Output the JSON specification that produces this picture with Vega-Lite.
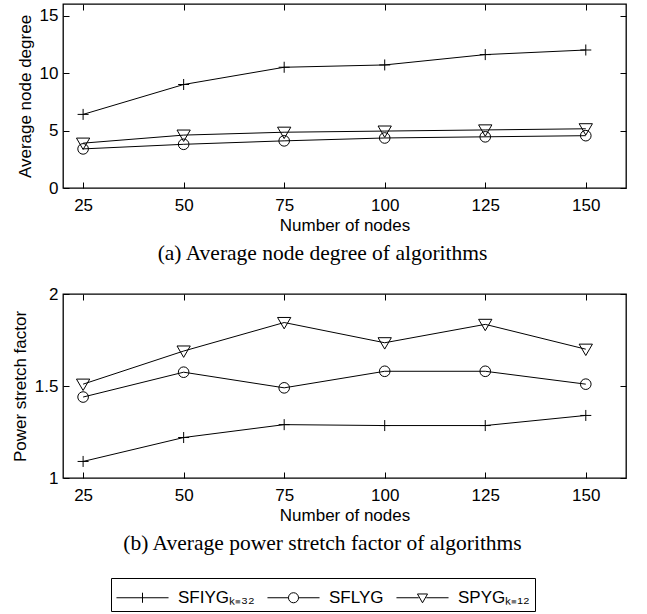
{
  "$schema": "https://vega.github.io/schema/vega-lite/v6.json",
  "padding": {"left": 10, "top": 2, "right": 0, "bottom": 0},
  "spacing": 18,
  "background": "white",
  "datasets": {
    "degree": [
      {"n": 25, "series": "SFIYG", "value": 6.4},
      {"n": 50, "series": "SFIYG", "value": 9.0},
      {"n": 75, "series": "SFIYG", "value": 10.5},
      {"n": 100, "series": "SFIYG", "value": 10.7},
      {"n": 125, "series": "SFIYG", "value": 11.6},
      {"n": 150, "series": "SFIYG", "value": 12.0},
      {"n": 25, "series": "SFLYG", "value": 3.4},
      {"n": 50, "series": "SFLYG", "value": 3.8},
      {"n": 75, "series": "SFLYG", "value": 4.1},
      {"n": 100, "series": "SFLYG", "value": 4.35},
      {"n": 125, "series": "SFLYG", "value": 4.45},
      {"n": 150, "series": "SFLYG", "value": 4.55},
      {"n": 25, "series": "SPYG", "value": 3.9},
      {"n": 50, "series": "SPYG", "value": 4.6},
      {"n": 75, "series": "SPYG", "value": 4.85},
      {"n": 100, "series": "SPYG", "value": 4.95},
      {"n": 125, "series": "SPYG", "value": 5.05},
      {"n": 150, "series": "SPYG", "value": 5.15}
    ],
    "stretch": [
      {"n": 25, "series": "SFIYG", "value": 1.09},
      {"n": 50, "series": "SFIYG", "value": 1.22},
      {"n": 75, "series": "SFIYG", "value": 1.29},
      {"n": 100, "series": "SFIYG", "value": 1.285},
      {"n": 125, "series": "SFIYG", "value": 1.285},
      {"n": 150, "series": "SFIYG", "value": 1.34},
      {"n": 25, "series": "SFLYG", "value": 1.44},
      {"n": 50, "series": "SFLYG", "value": 1.575},
      {"n": 75, "series": "SFLYG", "value": 1.49},
      {"n": 100, "series": "SFLYG", "value": 1.58},
      {"n": 125, "series": "SFLYG", "value": 1.58},
      {"n": 150, "series": "SFLYG", "value": 1.51},
      {"n": 25, "series": "SPYG", "value": 1.51},
      {"n": 50, "series": "SPYG", "value": 1.69},
      {"n": 75, "series": "SPYG", "value": 1.845},
      {"n": 100, "series": "SPYG", "value": 1.735},
      {"n": 125, "series": "SPYG", "value": 1.835},
      {"n": 150, "series": "SPYG", "value": 1.70}
    ]
  },
  "config": {
    "view": {"stroke": "black", "strokeWidth": 1.3},
    "font": "Liberation Sans",
    "axis": {
      "grid": false,
      "domain": false,
      "tickColor": "black",
      "tickSize": -6,
      "labelColor": "black",
      "labelFont": "Liberation Sans",
      "labelFontSize": 17,
      "titleColor": "black",
      "titleFont": "Liberation Sans",
      "titleFontSize": 17,
      "titleFontWeight": "normal"
    },
    "title": {"font": "Liberation Serif", "fontSize": 21.5, "fontWeight": "normal", "color": "black"}
  },
  "vconcat": [
    {
      "width": 563,
      "height": 184,
      "data": {"name": "degree"},
      "title": {"text": "(a)  Average node degree of algorithms", "orient": "bottom", "anchor": "middle", "dx": -22, "offset": 10},
      "layer": [
        {
          "mark": {"type": "line", "color": "black", "strokeWidth": 1},
          "encoding": {
            "x": {"field": "n", "type": "quantitative", "scale": {"domain": [20, 160]}, "axis": {"values": [25, 50, 75, 100, 125, 150], "title": "Number of nodes", "labelPadding": 15, "titlePadding": 4}},
            "y": {"field": "value", "type": "quantitative", "scale": {"domain": [0, 15]}, "axis": {"values": [0, 5, 10, 15], "title": "Average node degree", "labelPadding": 11, "titlePadding": 5}},
            "detail": {"field": "series"}
          }
        },
        {
          "transform": [{"filter": "datum.series == 'SFIYG'"}],
          "mark": {"type": "point", "filled": false, "color": "black", "strokeWidth": 1, "size": 160, "opacity": 1, "shape": "M-0.87,0H0.87M0,-0.87V0.87"},
          "encoding": {
            "x": {"field": "n", "type": "quantitative", "axis": null},
            "y": {"field": "value", "type": "quantitative", "axis": null}
          }
        },
        {
          "transform": [{"filter": "datum.series == 'SFLYG'"}],
          "mark": {"type": "point", "filled": false, "color": "black", "strokeWidth": 1, "size": 160, "opacity": 1, "shape": "M-0.84,0A0.84,0.84 0 1,1 0.84,0A0.84,0.84 0 1,1 -0.84,0Z"},
          "encoding": {
            "x": {"field": "n", "type": "quantitative", "axis": null},
            "y": {"field": "value", "type": "quantitative", "axis": null}
          }
        },
        {
          "transform": [{"filter": "datum.series == 'SPYG'"}],
          "mark": {"type": "point", "filled": false, "color": "black", "strokeWidth": 1, "size": 160, "opacity": 1, "shape": "M-1.05,-0.8L1.05,-0.8L0,1Z"},
          "encoding": {
            "x": {"field": "n", "type": "quantitative", "axis": null},
            "y": {"field": "value", "type": "quantitative", "axis": null}
          }
        },
        {
          "mark": {"type": "line", "opacity": 0},
          "encoding": {
            "x": {"field": "n", "type": "quantitative", "axis": {"orient": "top", "values": [25, 50, 75, 100, 125, 150], "labels": false, "title": null}},
            "y": {"field": "value", "type": "quantitative", "axis": {"orient": "right", "values": [0, 5, 10, 15], "labels": false, "title": null}},
            "detail": {"field": "series"}
          }
        }
      ],
      "resolve": {"axis": {"x": "independent", "y": "independent"}}
    },
    {
      "width": 563,
      "height": 184,
      "data": {"name": "stretch"},
      "title": {"text": "(b)  Average power stretch factor of algorithms", "orient": "bottom", "anchor": "middle", "dx": -22, "offset": 10},
      "layer": [
        {
          "mark": {"type": "line", "color": "black", "strokeWidth": 1},
          "encoding": {
            "x": {"field": "n", "type": "quantitative", "scale": {"domain": [20, 160]}, "axis": {"values": [25, 50, 75, 100, 125, 150], "title": "Number of nodes", "labelPadding": 15, "titlePadding": 4}},
            "y": {"field": "value", "type": "quantitative", "scale": {"domain": [1, 2]}, "axis": {"values": [1, 1.5, 2], "format": "~g", "title": "Power stretch factor", "labelPadding": 11, "titlePadding": 5}},
            "detail": {"field": "series"}
          }
        },
        {
          "transform": [{"filter": "datum.series == 'SFIYG'"}],
          "mark": {"type": "point", "filled": false, "color": "black", "strokeWidth": 1, "size": 160, "opacity": 1, "shape": "M-0.87,0H0.87M0,-0.87V0.87"},
          "encoding": {
            "x": {"field": "n", "type": "quantitative", "axis": null},
            "y": {"field": "value", "type": "quantitative", "axis": null}
          }
        },
        {
          "transform": [{"filter": "datum.series == 'SFLYG'"}],
          "mark": {"type": "point", "filled": false, "color": "black", "strokeWidth": 1, "size": 160, "opacity": 1, "shape": "M-0.84,0A0.84,0.84 0 1,1 0.84,0A0.84,0.84 0 1,1 -0.84,0Z"},
          "encoding": {
            "x": {"field": "n", "type": "quantitative", "axis": null},
            "y": {"field": "value", "type": "quantitative", "axis": null}
          }
        },
        {
          "transform": [{"filter": "datum.series == 'SPYG'"}],
          "mark": {"type": "point", "filled": false, "color": "black", "strokeWidth": 1, "size": 160, "opacity": 1, "shape": "M-1.05,-0.8L1.05,-0.8L0,1Z"},
          "encoding": {
            "x": {"field": "n", "type": "quantitative", "axis": null},
            "y": {"field": "value", "type": "quantitative", "axis": null}
          }
        },
        {
          "mark": {"type": "point", "filled": false, "color": "black", "strokeWidth": 1, "size": 0},
          "encoding": {
            "x": {"field": "n", "type": "quantitative", "axis": null},
            "y": {"field": "value", "type": "quantitative", "axis": null},
            "shape": {
              "field": "series", "type": "nominal",
              "scale": {"domain": ["SFIYG", "SFLYG", "SPYG"], "range": ["M-1.86,0H1.86M0,-0.36V0.36", "M-1.86,0H-0.36M0.36,0H1.86M-0.36,0A0.36,0.36 0 1,1 0.36,0A0.36,0.36 0 1,1 -0.36,0Z", "M-1.86,0H-0.27M0.27,0H1.86M-0.36,-0.27L0.36,-0.27L0,0.36Z"]},
              "legend": {
                "orient": "none",
                "legendX": 48,
                "legendY": 574,
                "direction": "horizontal",
                "title": null,
                "strokeColor": "black",
                "padding": 5,
                "columnPadding": 10,
                "symbolSize": 784,
                "symbolOffset": 12,
                "symbolStrokeWidth": 1,
                "symbolStrokeColor": "black",
                "symbolFillColor": "transparent",
                "symbolOpacity": 1,
                "labelFont": "Liberation Sans",
                "labelFontSize": 17,
                "labelColor": "black",
                "labelOffset": 21,
                "labelExpr": "datum.value == 'SFIYG' ? 'SFIYGₖ₌₃₂' : datum.value == 'SPYG' ? 'SPYGₖ₌₁₂' : datum.value"
              }
            }
          }
        },
        {
          "mark": {"type": "line", "opacity": 0},
          "encoding": {
            "x": {"field": "n", "type": "quantitative", "axis": {"orient": "top", "values": [25, 50, 75, 100, 125, 150], "labels": false, "title": null}},
            "y": {"field": "value", "type": "quantitative", "axis": {"orient": "right", "values": [1, 1.5, 2], "labels": false, "title": null}},
            "detail": {"field": "series"}
          }
        }
      ],
      "resolve": {"axis": {"x": "independent", "y": "independent"}}
    }
  ]
}
